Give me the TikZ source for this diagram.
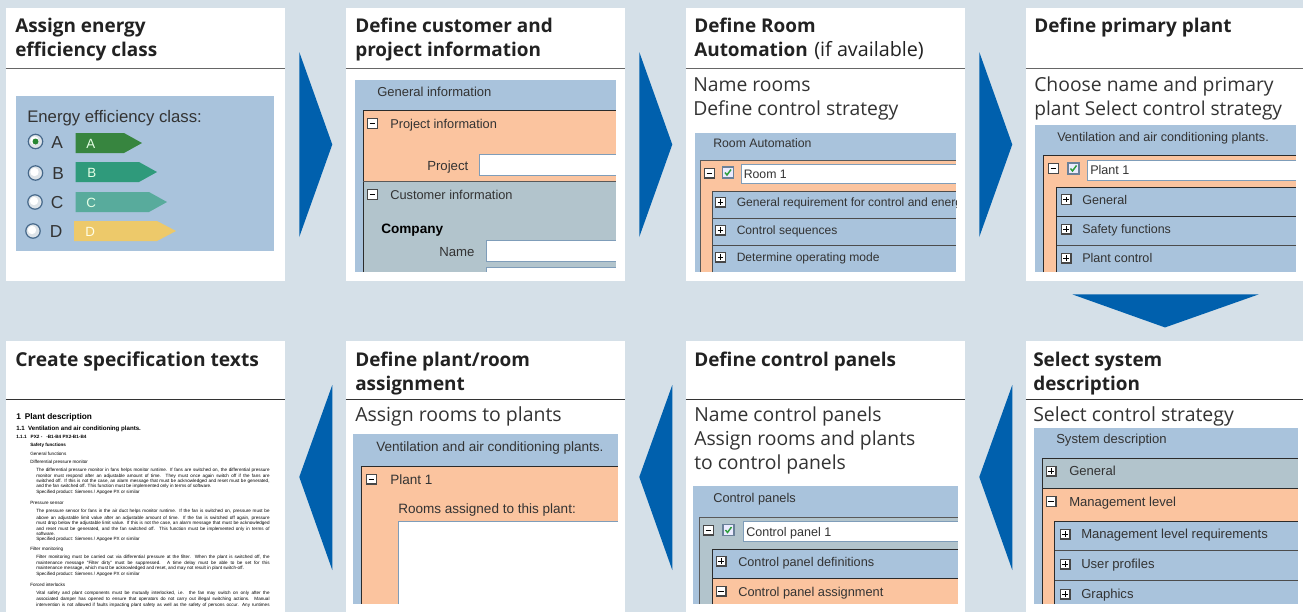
\documentclass[tikz,border=0pt]{standalone}
\usepackage{fontspec}
\usetikzlibrary{calc}
\newfontfamily\hsf{Open Sans}
\newfontfamily\arf{Liberation Sans}
\definecolor{bgc}{HTML}{D5E0E8}
\definecolor{panelc}{HTML}{A9C3DC}
\definecolor{orangec}{HTML}{FBC49F}
\definecolor{tealc}{HTML}{B2C4CC}
\definecolor{flowc}{HTML}{0060AD}
\definecolor{inkc}{HTML}{222222}
\definecolor{bodyc}{HTML}{333333}
\definecolor{fieldc}{HTML}{7F9DB9}
\definecolor{framec}{HTML}{2B2B2B}
\definecolor{tagA}{HTML}{37853F}
\definecolor{tagB}{HTML}{2F9A7B}
\definecolor{tagC}{HTML}{58AB9C}
\definecolor{tagD}{HTML}{EDC96A}
\definecolor{ringc}{HTML}{46688A}
\definecolor{radioc}{HTML}{DDE3E8}
\definecolor{checkc}{HTML}{2E9E3C}
\definecolor{checkb}{HTML}{6A8099}
\newcounter{tc}
\tikzset{
  card/.style={fill=white,draw=none,inner sep=0pt,minimum width=#1*0.75pt,minimum height=205pt},
  cardb/.style={fill=white,draw=none,inner sep=0pt,minimum width=#1*0.75pt,minimum height=203.25pt},
  lbl/.style={anchor=base west,inner sep=0pt,text=inkc},
  headtxt/.style={lbl,font=\hsf\bfseries\fontsize{14.2}{17}\selectfont},
  bodytxt/.style={lbl,text=bodyc,font=\hsf\fontsize{14.5}{17}\selectfont},
  uis/.style={lbl,text=black!80,font=\arf\fontsize{#1}{12}\selectfont},
  docb/.style={lbl,text=black,font=\arf\bfseries\fontsize{#1}{8}\selectfont},
  docn/.style={lbl,text=black,font=\arf\fontsize{3.45}{4}\selectfont},
  flowshape/.style={fill=flowc,draw=none},
  field/.style={fill=white,draw=fieldc,line width=0.6pt},
  frameline/.style={draw=framec,line width=0.7pt},
  cardrule/.style={draw=black!60,line width=0.7pt},
}
\newcommand\T[4]{\stepcounter{tc}\node[#3] (t\arabic{tc}) at (#1,#2) {#4};}
\newcommand\Para[3]{\stepcounter{tc}\node[docn] (t\arabic{tc}) at (#1,#2) {\makebox[175pt][s]{#3}};}
\newcommand\PM[3]{% x y type
  \fill[black!72] (#1-5.5,#2-5.5) rectangle (#1+5.5,#2+5.5);
  \fill[white] (#1-4.3,#2-4.3) rectangle (#1+4.3,#2+4.3);
  \draw[black,line width=0.75pt] (#1-2.8,#2) -- (#1+2.8,#2);
  \ifnum#3=1 \draw[black,line width=0.75pt] (#1,#2-2.8) -- (#1,#2+2.8);\fi
}
\newcommand\CK[2]{% x y
  \fill[white!92!blue,draw=checkb,line width=0.9pt] (#1-5.5,#2-5.5) rectangle (#1+5.5,#2+5.5);
  \draw[checkc,line width=1.1pt] (#1-3,#2) -- (#1-1,#2+2.5) -- (#1+3,#2-3);
}
\newcommand\RAD[3]{% x y selected
  \fill[radioc,draw=ringc,line width=0.9pt] (#1,#2) circle (7.2);
  \fill[white] (#1-1,#2-1) circle (4.2);
  \ifnum#3=1 \fill[checkc!85!black] (#1,#2) circle (3);\fi
}
\newcommand\TAG[5]{% x right-notch tip y color
  \fill[#5] (#1,#4-10) -- (#2,#4-10) -- (#3,#4) -- (#2,#4+10) -- (#1,#4+10) -- cycle;
}
\begin{document}
\begin{tikzpicture}[x=0.75pt,y=-0.75pt]
\useasboundingbox (0,0) rectangle (1303,612);
\fill[bgc] (0,0) rectangle (1303,612);

% cards
\node[card=279] (c1) at (145.5,144.5) {};
\node[card=279] (c2) at (485.5,144.5) {};
\node[card=279] (c3) at (825.5,144.5) {};
\node[card=277] (c4) at (1164.5,144.5) {};
\node[cardb=279] (c5) at (145.5,476.5) {};
\node[cardb=279] (c6) at (485.5,476.5) {};
\node[cardb=279] (c7) at (825.5,476.5) {};
\node[cardb=277] (c8) at (1164.5,476.5) {};

% card rules
\foreach \c in {c1,c2,c3,c4}{
  \draw[cardrule] ($(\c.west)+(0,-76.5)$) -- ($(\c.east)+(0,-76.5)$);
}
\foreach \c in {c5,c6,c7,c8}{
  \draw[cardrule,draw=black!80] ($(\c.west)+(0,-77)$) -- ($(\c.east)+(0,-77)$);
}

% flow arrows
\foreach \c in {c1,c2,c3}{
  \fill[flowshape] ($(\c.east)+(14,-92.5)$) -- ($(\c.east)+(47,0)$) -- ($(\c.east)+(14,92.5)$) -- cycle;
}
\fill[flowshape] ($(c4.south)+(-92,13)$) -- ($(c4.south)+(94,13)$) -- ($(c4.south)+(0.5,46)$) -- cycle;
\foreach \c in {c5,c6,c7}{
  \fill[flowshape] ($(\c.east)+(47,-91.5)$) -- ($(\c.east)+(14,0.5)$) -- ($(\c.east)+(47,93.5)$) -- cycle;
}

% ---------- card 1
\T{15}{32}{headtxt}{Assign energy}
\T{15}{56}{headtxt}{efficiency class}
\fill[panelc] (16,96) rectangle (274,251);
\T{27}{122.5}{uis=12.55}{Energy efficiency class:}
\RAD{35.5}{141.5}{1}\RAD{35.5}{173}{0}\RAD{35}{202}{0}\RAD{33}{231}{0}
\T{51}{148}{uis=13}{A}
\T{52}{179}{uis=13}{B}
\T{50.5}{208}{uis=13}{C}
\T{49.5}{237}{uis=13}{D}
\TAG{75.5}{124}{142}{143}{tagA}
\TAG{75.5}{139}{157}{172}{tagB}
\TAG{75.5}{149}{167}{202}{tagC}
\TAG{74}{157}{176}{231}{tagD}
\T{86}{148}{lbl,text=white!90!green,font=\arf\fontsize{10}{12}\selectfont}{A}
\T{87}{177}{lbl,text=white!90!green,font=\arf\fontsize{10}{12}\selectfont}{B}
\T{86}{207}{lbl,text=white!90!green,font=\arf\fontsize{10}{12}\selectfont}{C}
\T{85}{236}{lbl,text=white!90!yellow,font=\arf\fontsize{10}{12}\selectfont}{D}

% ---------- card 2
\T{355}{32}{headtxt}{Define customer and}
\T{355}{56}{headtxt}{project information}
\fill[panelc] (355,80) rectangle (616,272);
\T{377}{96}{uis=9.75}{General information}
\fill[orangec] (363,110) rectangle (616,181);
\fill[tealc] (363,181) rectangle (616,272);
\draw[frameline] (363,272) -- (363,110.5) -- (616,110.5);
\draw[frameline,draw=black!65] (363,181.5) -- (616,181.5);
\PM{372.5}{123.5}{0}
\T{390}{128}{uis=9.6}{Project information}
\T{427}{170}{uis=9.9}{Project}
\fill[field] (479.5,154.5) rectangle (618,175);
\PM{372.5}{194.5}{0}
\T{390}{199}{uis=9.6}{Customer information}
\T{381}{233}{lbl,text=black,font=\arf\bfseries\fontsize{10.2}{12}\selectfont}{Company}
\T{439}{256}{uis=9.9}{Name}
\fill[field] (486.5,240.5) rectangle (618,261);
\fill[field] (486.5,267.5) rectangle (618,275);
\fill[white] (616,100) rectangle (625,280);
\fill[white] (355,272) rectangle (625,280);

% ---------- card 3
\T{694}{32}{headtxt}{Define Room}
\T{694}{56}{lbl,font=\hsf\fontsize{14.8}{17}\selectfont}{{\bfseries\fontsize{14.2}{17}\selectfont Automation}\hspace{1pt} (if available)}
\T{693}{91}{bodytxt}{Name rooms}
\T{693}{115}{bodytxt}{Define control strategy}
\fill[panelc] (695,133) rectangle (956,272);
\T{713}{147}{uis=9.2}{Room Automation}
\fill[orangec] (700,160) rectangle (956,272);
\draw[frameline,draw=black!65] (700.5,272) -- (700.5,160.5) -- (956,160.5);
\fill[field] (741.5,164.5) rectangle (958,183);
\PM{709.5}{173}{0}\CK{728}{172.5}
\T{743.5}{178}{uis=9.2}{Room 1}
\fill[panelc] (712,191) rectangle (956,272);
\draw[frameline,draw=black!70] (712.5,272) -- (712.5,191) -- (956,191);
\draw[frameline,draw=black!70] (712.5,218.5) -- (956,218.5);
\draw[frameline,draw=black!70] (712.5,245.5) -- (956,245.5);
\PM{720.5}{202}{1}\PM{720.5}{230}{1}\PM{720.5}{257}{1}
\begin{scope}
\clip (730,190) rectangle (956,272);
\T{736.5}{206}{uis=9.05}{General requirement for control and energ}
\end{scope}
\T{736.5}{234}{uis=9.05}{Control sequences}
\T{736.5}{261.5}{uis=9.05}{Determine operating mode}
\fill[white] (956,150) rectangle (960,190);

% ---------- card 4
\T{1034}{32}{headtxt}{Define primary plant}
\T{1034}{91}{bodytxt}{Choose name and primary}
\T{1034}{115}{lbl,text=bodyc,font=\hsf\fontsize{14.35}{17}\selectfont}{plant Select control strategy}
\fill[panelc] (1035,125) rectangle (1296,272);
\T{1057}{141.5}{uis=9.45}{Ventilation and air conditioning plants.}
\fill[orangec] (1043,155) rectangle (1296,272);
\draw[frameline] (1043.5,272) -- (1043.5,155.5) -- (1296,155.5);
\fill[field] (1087.5,160.5) rectangle (1298,180);
\PM{1053.5}{168.5}{0}\CK{1073.5}{168.5}
\T{1090}{174.5}{uis=9.45}{Plant 1}
\fill[panelc] (1056,187) rectangle (1296,272);
\draw[frameline] (1056.5,272) -- (1056.5,187.5) -- (1296,187.5);
\draw[frameline] (1056.5,216.5) -- (1296,216.5);
\draw[frameline,draw=black!70] (1056.5,245.5) -- (1296,245.5);
\PM{1066}{199.5}{1}\PM{1066}{229}{1}\PM{1066}{258}{1}
\T{1082}{204}{uis=9.45}{General}
\T{1082}{233}{uis=9.35}{Safety functions}
\T{1082}{262.5}{uis=9.45}{Plant control}
\fill[white] (1296,150) rectangle (1300,190);

% ---------- card 8 (bottom right)
\T{1033}{366}{headtxt}{Select system}
\T{1033}{390}{headtxt}{description}
\T{1033}{421}{lbl,text=bodyc,font=\hsf\fontsize{14.6}{17}\selectfont}{Select control strategy}
\fill[panelc] (1034,428) rectangle (1298,604);
\T{1056}{443.5}{uis=9.8}{System description}
\fill[tealc] (1042,458) rectangle (1298,488);
\fill[orangec] (1042,488) rectangle (1298,604);
\draw[frameline] (1042.5,604) -- (1042.5,458.5) -- (1298,458.5);
\draw[frameline] (1042.5,488.5) -- (1298,488.5);
\PM{1051}{471}{1}
\T{1069}{475.5}{uis=9.8}{General}
\PM{1051}{501.5}{0}
\T{1069}{506}{uis=9.8}{Management level}
\fill[panelc] (1054,521) rectangle (1298,604);
\draw[frameline] (1054.5,604) -- (1054.5,521) -- (1298,521);
\draw[frameline,draw=black!70] (1054.5,550.5) -- (1298,550.5);
\draw[frameline,draw=black!70] (1054.5,580.5) -- (1298,580.5);
\PM{1065}{534}{1}\PM{1065}{564}{1}\PM{1065}{594}{1}
\T{1081}{538}{uis=9.8}{Management level requirements}
\T{1081}{568}{uis=9.8}{User profiles}
\T{1081}{598}{uis=9.8}{Graphics}

% ---------- card 7
\T{694}{366}{headtxt}{Define control panels}
\T{694}{421}{bodytxt}{Name control panels}
\T{694}{445}{bodytxt}{Assign rooms and plants}
\T{694}{469}{bodytxt}{to control panels}
\fill[panelc] (693,486) rectangle (958,604);
\T{713}{502}{uis=9.6}{Control panels}
\fill[tealc] (699,517) rectangle (958,604);
\draw[frameline,draw=black!65] (699.5,604) -- (699.5,517.5) -- (958,517.5);
\fill[field] (743.5,521.5) rectangle (960,541);
\PM{708.5}{530}{0}\CK{728.5}{530}
\T{746}{536}{uis=9.4}{Control panel 1}
\fill[panelc] (712,549) rectangle (958,578);
\fill[orangec] (712,578) rectangle (958,604);
\draw[frameline] (712.5,604) -- (712.5,549.5) -- (958,549.5);
\draw[frameline] (712.5,578.5) -- (958,578.5);
\PM{721}{561}{1}\PM{721}{591}{0}
\T{738}{566}{uis=9.5}{Control panel definitions}
\T{738}{596}{uis=9.6}{Control panel assignment}
\fill[white] (958,510) rectangle (962,550);

% ---------- card 6
\T{355}{366}{headtxt}{Define plant/room}
\T{355}{390}{headtxt}{assignment}
\T{355}{421}{lbl,text=bodyc,font=\hsf\fontsize{14.6}{17}\selectfont}{Assign rooms to plants}
\fill[panelc] (353,434) rectangle (618,604);
\T{376}{451}{uis=10.15}{Ventilation and air conditioning plants.}
\fill[orangec] (361,466) rectangle (618,604);
\draw[frameline] (361.5,604) -- (361.5,466.5) -- (618,466.5);
\PM{371.5}{479}{0}
\T{390}{484}{uis=10.15}{Plant 1}
\T{398}{513}{uis=10.15}{Rooms assigned to this plant:}
\fill[white,draw=fieldc,line width=0.6pt] (398.5,521.5) rectangle (620,606);
\fill[white] (618,515) rectangle (625,612);
\fill[white] (353,604) rectangle (625,612);

% ---------- card 5
\T{15}{366}{lbl,font=\hsf\bfseries\fontsize{14.4}{17}\selectfont}{Create specification texts}
\T{16}{419.5}{docb=6.2}{1\hspace{3pt}Plant description}
\T{16}{430}{docb=4.6}{1.1\hspace{2.5pt}Ventilation and air conditioning plants.}
\T{16}{438.5}{docb=3.5}{1.1.1\hspace{3pt}PX2 - \hspace{2pt}-B1-B4 PX2-B1-B4}
\T{30}{446.5}{docb=3.45}{Safety functions}
\T{30}{455.5}{docn}{General functions}
\T{30}{463.5}{docn}{Differential pressure monitor}
\Para{36}{471.5}{The differential pressure monitor in fans helps monitor runtime. If fans are switched on, the differential pressure}
\Para{36}{477}{monitor must respond after an adjustable amount of time. They must once again switch off if the fans are}
\Para{36}{482}{switched off. If this is not the case, an alarm message that must be acknowledged and reset must be generated,}
\T{36}{487.5}{docn}{and the fan switched off. This function must be implemented only in terms of software.}
\T{36}{493.5}{docn}{Specified product: Siemens / Apogee PX or similar}
\T{30}{504.5}{docn}{Pressure sensor}
\Para{36}{512.5}{The pressure sensor for fans in the air duct helps monitor runtime. If the fan is switched on, pressure must be}
\Para{36}{519}{above an adjustable limit value after an adjustable amount of time. If the fan is switched off again, pressure}
\Para{36}{524.5}{must drop below the adjustable limit value. If this is not the case, an alarm message that must be acknowledged}
\Para{36}{530}{and reset must be generated, and the fan switched off. This function must be implemented only in terms of}
\T{36}{535}{docn}{software.}
\T{36}{540.5}{docn}{Specified product: Siemens / Apogee PX or similar}
\T{30}{550.5}{docn}{Filter monitoring}
\Para{36}{558.5}{Filter monitoring must be carried out via differential pressure at the filter. When the plant is switched off, the}
\Para{36}{564.5}{maintenance message "Filter dirty" must be suppressed. A time delay must be able to be set for this}
\T{36}{569.5}{docn}{maintenance message, which must be acknowledged and reset, and may not result in plant switch-off.}
\T{36}{575.5}{docn}{Specified product: Siemens / Apogee PX or similar}
\T{30}{586.5}{docn}{Forced interlocks}
\Para{36}{594.5}{Vital safety and plant components must be mutually interlocked, i.e. the fan may switch on only after the}
\Para{36}{600.5}{associated damper has opened to ensure that operators do not carry out illegal switching actions. Manual}
\Para{36}{606.5}{intervention is not allowed if faults impacting plant safety as well as the safety of persons occur. Any runtimes}
\end{tikzpicture}
\end{document}
